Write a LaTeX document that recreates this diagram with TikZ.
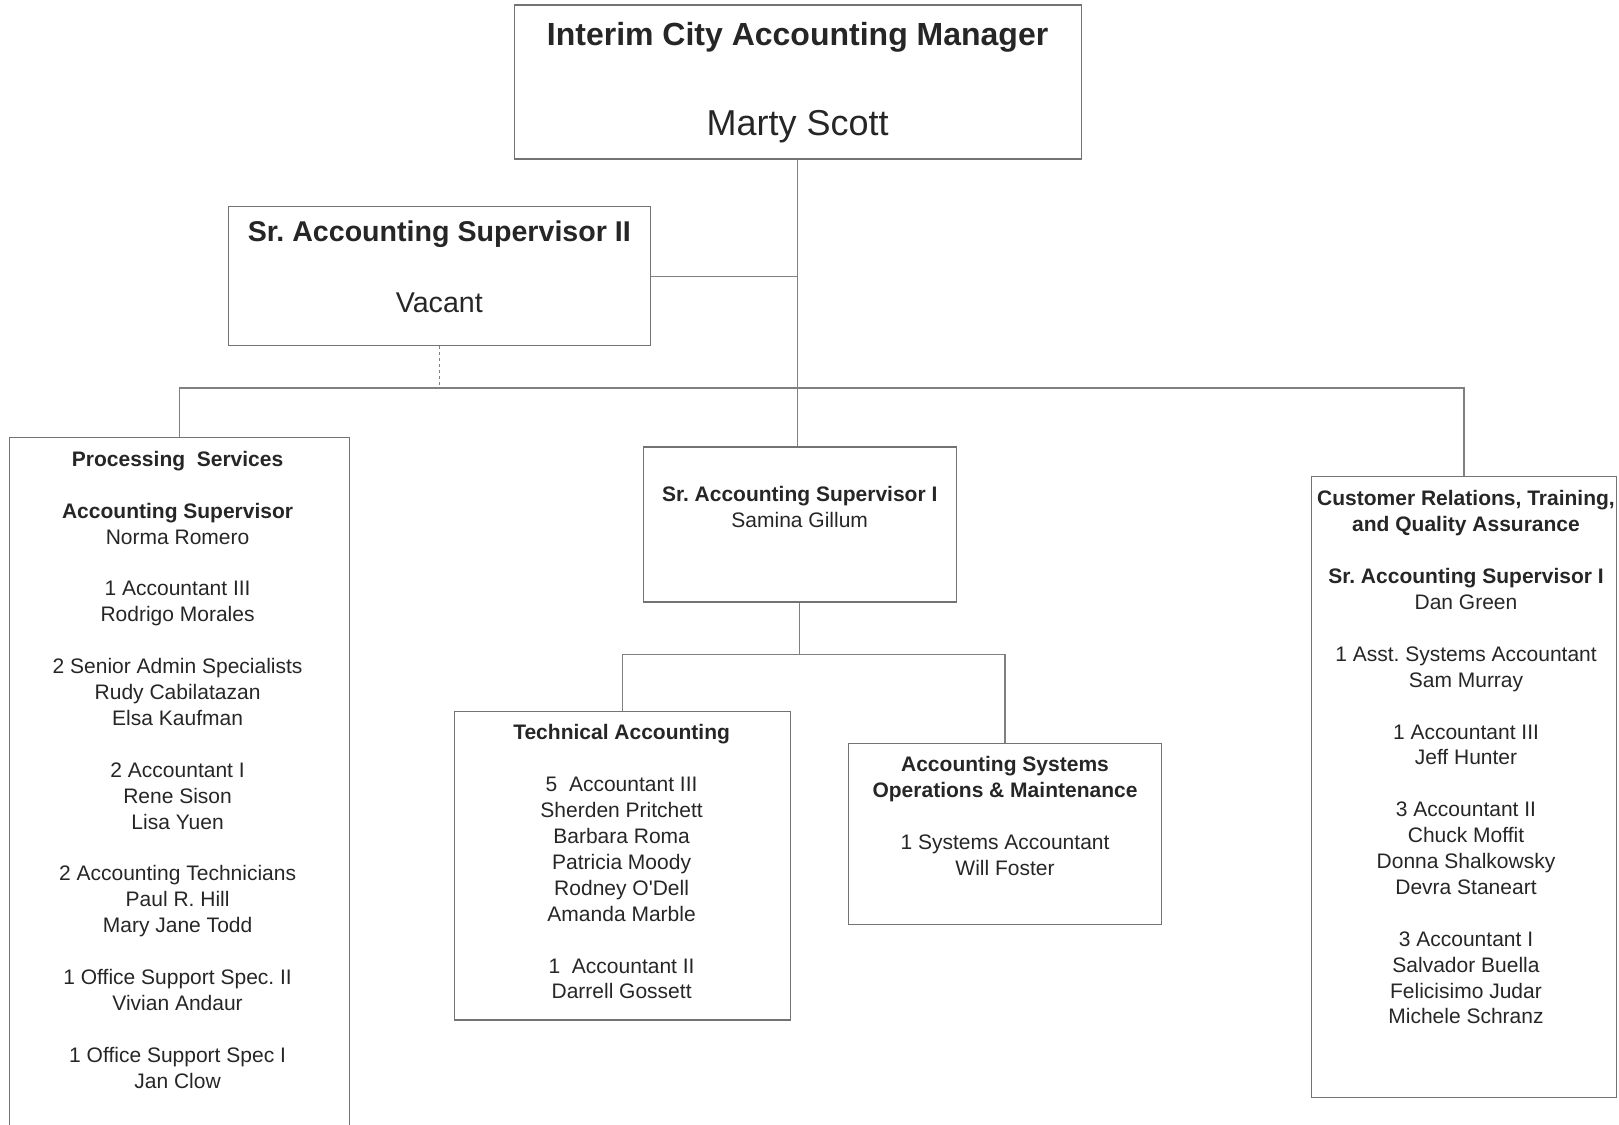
\documentclass[tikz,border=0pt]{standalone}
\usepackage{fontspec}
\setmainfont{Liberation Sans}
\usetikzlibrary{positioning}
\frenchspacing

\newcommand{\skipln}{\\[25.9pt]}

\tikzset{
  orgbox/.style={draw=black!55, line width=1.1pt, inner sep=0pt},
  orgline/.style={draw=black!50, line width=1.1pt},
  unittext/.style={font=\fontsize{21}{25.9}\selectfont, align=center,
                   inner sep=0pt, anchor=north, text=black!85},
}

\begin{document}
\begin{tikzpicture}[x=1pt, y=-1pt]
    \useasboundingbox (0,0) rectangle (1619,1124);
    % boxes
    \node[orgbox, minimum width=567pt, minimum height=154pt] (mgr) at (797.6,82) {};
    \node[orgbox, minimum width=422pt, minimum height=139.4pt] (sup2) at (439.3,276.2) {};
    \node[orgbox, minimum width=339.7pt, minimum height=692pt] (proc) at (179.2,783.9) {};
    \node[orgbox, minimum width=313pt, minimum height=155pt] (sup1) at (799.7,524.5) {};
    \node[orgbox, minimum width=336.6pt, minimum height=308.6pt] (tech) at (622.6,865.7) {};
    \node[orgbox, minimum width=313pt, minimum height=180.7pt] (sys) at (1005,833.7) {};
    \node[orgbox, minimum width=305.7pt, minimum height=620.5pt] (cust) at (1464,787) {};

    % titles
    \node[font=\fontsize{32}{38}\selectfont\bfseries, inner sep=0pt, anchor=base, text=black!85]
        (mgrT) at (797.6,45.5) {Interim City Accounting Manager};
    \node[font=\fontsize{36}{42}\selectfont, inner sep=0pt, anchor=base, text=black!85]
        (mgrN) at (797.6,135) {Marty Scott};
    \node[font=\fontsize{28.6}{34}\selectfont\bfseries, inner sep=0pt, anchor=base, text=black!85]
        (sup2T) at (439.3,241) {Sr. Accounting Supervisor II};
    \node[font=\fontsize{28.6}{34}\selectfont, inner sep=0pt, anchor=base, text=black!85]
        (sup2N) at (439.3,312) {Vacant};

    \node[unittext] (procT) at (177.6,451) {%
        \textbf{Processing\ \ Services}\skipln
        \textbf{Accounting Supervisor}\\ Norma Romero\skipln
        1 Accountant III\\ Rodrigo Morales\skipln
        2 Senior Admin Specialists\\ Rudy Cabilatazan\\ Elsa Kaufman\skipln
        2 Accountant I\\ Rene Sison\\ Lisa Yuen\skipln
        2 Accounting Technicians\\ Paul R. Hill\\ Mary Jane Todd\skipln
        1 Office Support Spec. II\\ Vivian Andaur\skipln
        1 Office Support Spec I\\ Jan Clow};
    \node[unittext] (sup1T) at (799.7,486) {%
        \textbf{Sr. Accounting Supervisor I}\\ Samina Gillum};
    \node[unittext] (techT) at (621.6,724.5) {%
        \textbf{Technical Accounting}\skipln
        5\ \ Accountant III\\ Sherden Pritchett\\ Barbara Roma\\ Patricia Moody\\
        Rodney O\textquotesingle Dell\\ Amanda Marble\skipln
        1\ \ Accountant II\\ Darrell Gossett};
    \node[unittext] (sysT) at (1005,756.5) {%
        \textbf{Accounting Systems}\\ \textbf{Operations \& Maintenance}\skipln
        1 Systems Accountant\\ Will Foster};
    \node[unittext] (custT) at (1466,490.5) {%
        \textbf{Customer Relations, Training,}\\ \textbf{and Quality Assurance}\skipln
        \textbf{Sr. Accounting Supervisor I}\\ Dan Green\skipln
        1 Asst. Systems Accountant\\ Sam Murray\skipln
        1 Accountant III\\ Jeff Hunter\skipln
        3 Accountant II\\ Chuck Moffit\\ Donna Shalkowsky\\ Devra Staneart\skipln
        3 Accountant I\\ Salvador Buella\\ Felicisimo Judar\\ Michele Schranz};

    % connectors
    \coordinate (bus) at (798,388);
    \coordinate (sub) at (799.7,654.6);
    \draw[orgline] (mgr.south) -- (mgr.south |- sup1.north);
    \draw[orgline] (sup2.east) -- (sup2.east -| mgr.south);
    \draw[orgline] (proc.north) |- (bus) -| (cust.north);
    \draw[orgline, dashed] (sup2.south) -- (sup2.south |- bus);
    \draw[orgline] (sup1.south) -- (sub);
    \draw[orgline] (tech.north) |- (sub) -| (sys.north);
\end{tikzpicture}
\end{document}
